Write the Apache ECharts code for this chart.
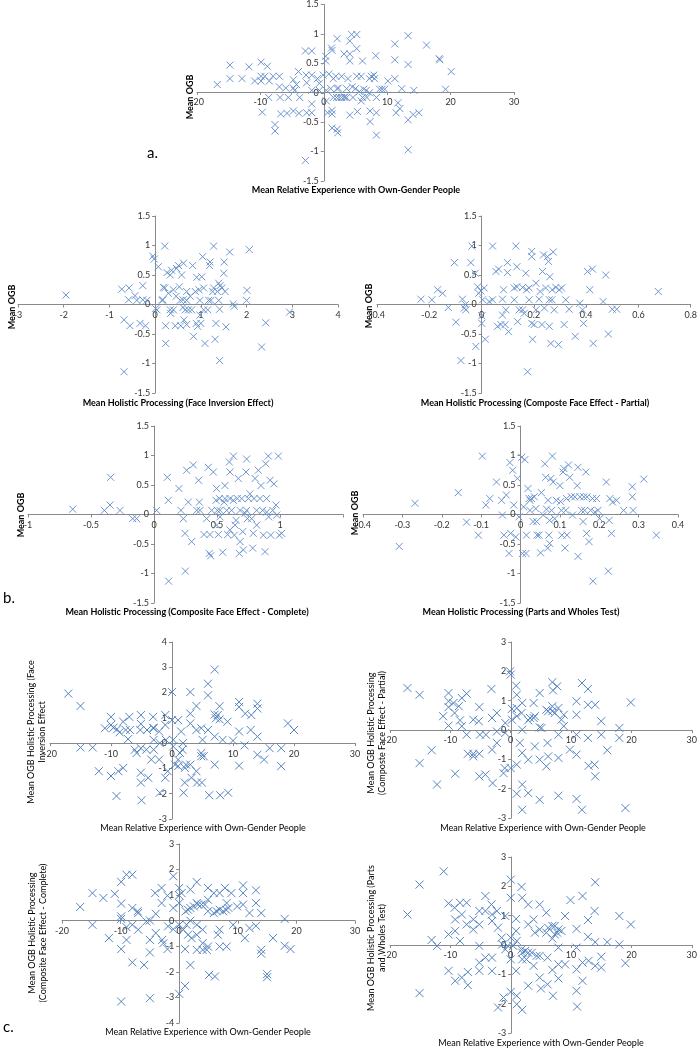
<!DOCTYPE html>
<html><head><meta charset="utf-8">
<script src="https://cdn.jsdelivr.net/npm/echarts@6/dist/echarts.min.js"></script>
<style>html,body{margin:0;padding:0;background:#fff}#c{width:700px;height:1048px}</style>
</head><body><div id="c"></div>
<script>
// ---- data (x, y) per panel ----
const panelA = [[-16.8,0.14],[-14.8,0.47],[-14.8,0.24],[-12.9,0.24],[-11.8,0.44],[-10.9,0.2],[-9.9,0.52],[-9.9,0.28],[-9.9,0.2],[-9.7,-0.33],[-9.3,0.28],[-8.9,0.45],[-8.7,-0.08],[-8.6,0.2],[-8.0,0.28],[-7.7,-0.54],[-7.7,-0.65],[-7.0,0.28],[-7.0,0.1],[-6.8,-0.36],[-6.0,0.08],[-5.8,-0.35],[-4.8,0.08],[-4.8,0.22],[-4.8,-0.31],[-4.6,0.04],[-4.0,0.36],[-3.9,-0.35],[-2.9,0.71],[-2.8,0.3],[-2.7,-0.34],[-2.9,-1.15],[-2.7,0.17],[-1.9,0.71],[-1.9,-0.19],[-1.9,-0.34],[-1.0,0.24],[-0.7,0.16],[-0.7,0.04],[0.3,0.54],[0.3,0.62],[0.4,-0.14],[0.6,-0.34],[0.8,0.32],[1.1,0.07],[1.2,0.76],[1.3,0.72],[1.3,-0.3],[1.3,-0.36],[1.3,-0.6],[1.5,-0.08],[1.9,0.28],[2.1,0.92],[2.1,0.07],[2.1,-0.62],[2.2,-0.68],[2.3,0.08],[2.4,-0.08],[2.8,0.28],[3.2,0.66],[3.2,-0.08],[3.3,-0.07],[3.8,0.24],[4.1,0.54],[4.1,0.66],[4.1,0.88],[4.1,-0.38],[4.4,0.99],[4.5,0.1],[5.2,0.99],[5.2,0.75],[5.2,0.28],[5.3,-0.32],[5.6,0.02],[6.1,0.54],[6.1,-0.08],[6.3,0.06],[7.2,0.24],[7.3,-0.49],[7.3,-0.31],[7.5,0.28],[7.9,0.3],[8.0,0.24],[8.2,0.63],[8.3,-0.34],[8.3,-0.72],[8.3,-0.08],[9.2,0.06],[10.1,0.2],[11.2,0.56],[11.2,0.83],[11.2,0.24],[11.4,-0.34],[11.7,-0.17],[12.0,-0.27],[12.3,0.07],[13.3,0.48],[13.3,0.97],[13.3,-0.46],[13.3,-0.97],[14.1,-0.37],[14.2,0.04],[15.0,-0.34],[16.2,0.81],[18.2,0.58],[18.3,0.56],[19.2,0.06],[20.1,0.36],[-5.6,-0.08],[-3.8,-0.08],[-1.9,0.04],[0.4,0.04],[3.6,-0.08],[4.6,-0.08],[5.9,-0.14],[6.8,-0.08],[2.0,-0.08],[2.8,-0.08],[8.8,0.06],[9.6,0.06],[6.7,0.04],[5.0,0.07],[3.6,0.07],[1.5,0.24],[-0.1,0.3],[-4.3,0.14],[-6.9,-0.08],[-1.9,0.3],[7.2,0.0],[5.9,0.28]];

const panelB1 = [[-1.95,0.16],[-0.73,0.26],[-0.68,-0.26],[-0.68,-1.14],[-0.57,0.28],[-0.58,0.08],[-0.55,-0.36],[-0.44,0.15],[-0.4,0.07],[-0.33,-0.32],[-0.27,0.32],[-0.27,0.08],[-0.21,-0.36],[-0.18,0.07],[-0.05,0.82],[-0.02,0.77],[0.01,-0.07],[0.04,-0.09],[0.07,0.64],[0.15,0.07],[0.18,0.29],[0.21,0.28],[0.21,0.99],[0.23,-0.36],[0.23,-0.66],[0.26,0.54],[0.33,0.5],[0.33,-0.09],[0.34,-0.15],[0.36,0.58],[0.4,0.25],[0.44,-0.36],[0.46,0.14],[0.47,0.61],[0.51,0.66],[0.53,0.3],[0.55,0.07],[0.56,-0.36],[0.58,0.5],[0.61,-0.05],[0.62,0.7],[0.63,-0.26],[0.66,-0.09],[0.69,0.22],[0.73,-0.09],[0.77,0.14],[0.8,-0.09],[0.82,0.66],[0.84,-0.54],[0.88,0.22],[0.9,-0.32],[0.91,0.46],[0.93,-0.37],[0.96,0.25],[0.98,0.07],[1.0,-0.32],[1.02,0.47],[1.04,0.81],[1.06,0.28],[1.09,-0.66],[1.15,-0.09],[1.17,0.07],[1.19,0.66],[1.2,0.72],[1.22,0.07],[1.26,0.22],[1.28,0.99],[1.31,-0.59],[1.33,-0.32],[1.36,0.22],[1.39,0.07],[1.41,-0.95],[1.41,-0.08],[1.42,0.32],[1.46,0.28],[1.5,0.53],[1.51,0.72],[1.53,0.22],[1.55,-0.38],[1.63,0.89],[1.71,0.01],[1.73,-0.03],[2.0,0.07],[2.01,0.24],[2.06,0.93],[2.33,-0.72],[2.42,-0.31],[2.94,-0.13],[0.69,0.07],[0.4,-0.09],[0.29,0.19],[1.28,0.28],[0.98,-0.18],[1.06,-0.09],[0.69,-0.34],[0.61,0.08],[0.17,0.08],[1.39,0.36]];

const panelB2 = [[-0.232,0.09],[-0.19,0.08],[-0.168,0.25],[-0.149,0.19],[-0.127,-0.05],[-0.104,0.71],[-0.098,-0.3],[-0.073,0.09],[-0.066,-0.06],[-0.062,0.0],[-0.079,-0.95],[-0.06,-0.09],[-0.041,0.71],[-0.037,0.99],[-0.022,-0.71],[-0.024,0.53],[-0.015,0.3],[-0.011,0.19],[-0.003,0.23],[0.001,-0.19],[0.001,-0.32],[0.004,0.08],[0.01,0.28],[0.014,-0.59],[0.029,0.05],[0.042,0.99],[0.055,0.56],[0.061,-0.37],[0.065,0.6],[0.074,-0.34],[0.08,0.09],[0.084,0.25],[0.09,-0.34],[0.093,-0.09],[0.099,0.71],[0.099,0.54],[0.103,-0.46],[0.131,0.99],[0.135,0.64],[0.135,0.3],[0.138,-0.29],[0.144,-0.09],[0.157,0.29],[0.163,-0.15],[0.169,0.53],[0.172,0.25],[0.176,-1.14],[0.182,0.08],[0.192,0.9],[0.192,0.81],[0.192,-0.32],[0.195,-0.59],[0.201,-0.34],[0.208,0.36],[0.22,0.09],[0.224,0.22],[0.231,-0.34],[0.233,0.56],[0.237,0.84],[0.24,-0.06],[0.252,0.81],[0.256,0.73],[0.259,-0.37],[0.261,0.47],[0.265,-0.66],[0.269,0.08],[0.274,0.89],[0.278,-0.09],[0.284,0.29],[0.294,-0.68],[0.297,0.25],[0.306,0.28],[0.316,-0.34],[0.322,0.08],[0.335,-0.08],[0.358,-0.54],[0.376,0.02],[0.386,-0.09],[0.39,-0.32],[0.405,0.56],[0.414,0.25],[0.424,0.6],[0.427,-0.66],[0.465,0.05],[0.475,0.5],[0.485,-0.5],[0.5,-0.08],[0.517,-0.08],[0.676,0.22],[0.042,0.08],[0.125,0.08],[0.157,-0.09],[0.245,0.28],[0.27,0.25],[0.208,-0.09],[0.08,-0.18],[0.182,0.28],[0.125,0.28],[0.259,0.08]];

const panelB3 = [[-0.645,0.09],[-0.394,0.07],[-0.349,0.16],[-0.344,0.63],[-0.27,0.07],[-0.169,-0.07],[-0.138,-0.07],[0.021,0.07],[0.106,0.63],[0.114,0.24],[0.116,-1.13],[0.198,0.44],[0.214,0.07],[0.233,-0.07],[0.246,-0.32],[0.249,-0.96],[0.259,0.75],[0.272,0.21],[0.299,-0.46],[0.312,0.84],[0.354,0.58],[0.36,0.21],[0.365,0.07],[0.397,-0.34],[0.431,0.8],[0.439,-0.66],[0.444,-0.34],[0.45,-0.7],[0.458,0.07],[0.471,0.72],[0.492,0.24],[0.497,0.44],[0.503,0.07],[0.511,-0.34],[0.519,0.27],[0.524,-0.04],[0.545,-0.64],[0.556,0.21],[0.563,0.49],[0.577,0.07],[0.585,-0.34],[0.598,0.89],[0.603,0.72],[0.603,-0.26],[0.616,0.07],[0.63,0.99],[0.63,0.24],[0.638,-0.35],[0.651,-0.1],[0.661,0.27],[0.669,0.61],[0.677,-0.66],[0.683,-0.46],[0.696,0.27],[0.704,-0.29],[0.709,-0.6],[0.722,0.02],[0.73,0.72],[0.735,0.94],[0.741,-0.07],[0.749,0.27],[0.762,0.35],[0.775,-0.07],[0.783,-0.57],[0.794,0.27],[0.802,0.61],[0.815,-0.18],[0.828,0.75],[0.841,0.27],[0.849,0.49],[0.862,0.07],[0.868,-0.35],[0.881,-0.63],[0.886,0.86],[0.894,0.27],[0.907,0.99],[0.91,-0.04],[0.921,0.58],[0.926,-0.35],[0.942,0.07],[0.952,0.52],[0.968,0.16],[0.987,0.99],[0.995,-0.35],[1.013,-0.32],[0.524,0.07],[0.603,0.27],[0.683,0.07],[0.735,0.07],[0.815,0.07],[0.497,-0.18],[0.643,-0.18],[0.788,-0.32],[0.339,0.07],[0.974,-0.01],[0.894,0.04],[0.563,0.27],[0.418,-0.07]];

const panelB4 = [[-0.308,-0.54],[-0.268,0.19],[-0.158,0.37],[-0.137,-0.13],[-0.107,-0.35],[-0.097,0.99],[-0.088,0.16],[-0.078,0.27],[-0.061,0.55],[-0.048,0.24],[-0.046,-0.01],[-0.042,-0.35],[-0.036,0.33],[-0.029,-0.66],[-0.027,0.88],[-0.025,-0.32],[-0.02,0.75],[-0.017,0.16],[-0.012,-0.38],[-0.008,0.61],[-0.004,-0.04],[0.003,0.97],[0.005,-0.66],[0.008,0.13],[0.011,0.93],[0.014,-0.66],[0.015,-0.35],[0.019,0.44],[0.022,0.27],[0.024,0.24],[0.028,0.27],[0.032,-0.12],[0.035,0.3],[0.039,0.1],[0.042,-0.35],[0.047,-0.35],[0.051,-0.65],[0.053,0.37],[0.058,-0.01],[0.062,0.86],[0.064,0.63],[0.066,0.09],[0.069,-0.57],[0.07,0.24],[0.072,-0.35],[0.074,-0.49],[0.077,0.61],[0.079,0.07],[0.081,0.99],[0.083,0.55],[0.087,-0.07],[0.1,0.49],[0.102,0.22],[0.104,0.07],[0.105,-0.35],[0.108,0.72],[0.11,0.78],[0.113,-0.57],[0.115,0.07],[0.117,0.27],[0.118,-0.35],[0.122,0.84],[0.125,0.63],[0.129,0.3],[0.132,-0.01],[0.138,0.3],[0.144,0.49],[0.146,0.8],[0.146,-0.71],[0.151,0.3],[0.155,0.07],[0.161,0.3],[0.166,0.72],[0.168,-0.32],[0.169,0.3],[0.174,-0.46],[0.178,0.07],[0.183,0.27],[0.184,-1.13],[0.189,0.04],[0.193,0.27],[0.197,0.07],[0.201,-0.07],[0.218,0.55],[0.223,-0.96],[0.225,-0.1],[0.227,0.27],[0.231,-0.32],[0.234,0.21],[0.244,0.24],[0.262,0.07],[0.284,0.47],[0.284,0.3],[0.286,0.07],[0.313,0.6],[0.345,-0.35],[0.024,0.07],[0.041,-0.12],[0.091,0.24],[0.074,-0.1],[0.159,-0.12],[0.163,0.07]];

const panelC1 = [[-17.0,1.96],[-15.0,1.47],[-15.0,-0.17],[-13.0,-0.17],[-12.0,-1.11],[-11.0,0.59],[-10.0,1.04],[-10.0,0.72],[-10.0,-1.3],[-9.6,0.61],[-9.1,-2.09],[-9.0,0.55],[-8.8,-1.11],[-8.6,0.43],[-8.0,0.85],[-8.0,-0.98],[-7.6,0.52],[-7.2,0.16],[-7.0,1.04],[-6.9,0.52],[-6.1,-0.26],[-5.8,-0.39],[-5.2,0.52],[-5.1,1.11],[-5.1,0.76],[-5.1,-0.2],[-5.1,-1.17],[-5.1,-1.56],[-5.0,-2.26],[-4.1,0.52],[-3.9,-1.37],[-3.4,-0.65],[-3.1,1.04],[-3.1,0.61],[-3.0,0.13],[-3.0,-0.26],[-2.1,0.46],[-2.1,-0.65],[-2.0,0.0],[-2.0,-1.96],[-1.1,1.11],[-1.1,-1.37],[-1.1,0.72],[-0.7,-1.11],[0.0,2.02],[0.0,0.91],[0.2,-0.13],[0.5,-0.85],[1.0,0.91],[1.0,-0.91],[1.3,-0.39],[1.5,0.46],[1.8,0.0],[1.9,-1.96],[2.1,-0.98],[2.1,-1.56],[2.3,-0.85],[3.0,2.02],[3.0,1.17],[3.0,0.78],[3.0,-0.85],[3.2,-1.37],[4.0,1.47],[4.0,0.52],[4.0,-1.11],[4.1,-1.56],[4.8,0.59],[4.8,-0.39],[4.9,-1.56],[5.0,0.13],[5.2,-0.52],[5.9,2.35],[5.9,1.89],[5.9,0.52],[6.1,-2.06],[7.0,2.91],[7.0,1.13],[7.0,0.26],[7.0,-0.85],[7.5,1.11],[7.8,1.46],[7.8,0.94],[7.9,-2.06],[8.3,0.13],[9.1,0.85],[9.2,-1.96],[10.0,0.1],[11.0,1.63],[11.0,1.43],[11.0,0.46],[11.0,-0.89],[11.9,-0.09],[12.0,1.17],[12.9,0.52],[13.0,1.11],[14.0,1.37],[14.0,1.56],[14.0,0.26],[14.0,-0.46],[15.1,-0.65],[16.0,-0.2],[17.9,-0.2],[17.9,-0.91],[19.0,0.78],[20.0,0.52],[0.2,0.13],[1.7,-0.26],[1.0,-0.65],[4.8,-0.52],[7.2,0.98],[-4.2,-0.26],[-3.0,0.59],[-1.0,0.13]];

const panelC2 = [[-17.1,1.43],[-15.1,1.2],[-15.1,-1.13],[-13.1,-0.69],[-12.2,-1.86],[-11.2,0.47],[-10.3,1.26],[-10.3,0.98],[-10.3,0.78],[-10.3,0.15],[-9.5,0.92],[-9.3,0.58],[-9.2,-1.49],[-8.6,0.81],[-8.4,0.33],[-8.1,1.09],[-8.1,0.13],[-7.3,1.24],[-7.3,-0.16],[-7.1,-0.81],[-6.2,-0.81],[-6.2,0.35],[-5.3,0.3],[-5.2,-0.81],[-5.2,0.78],[-5.1,-0.16],[-5.2,-1.58],[-4.2,-1.52],[-4.1,-0.16],[-3.2,1.4],[-3.1,0.41],[-3.1,-0.67],[-3.0,-1.81],[-2.3,0.58],[-2.3,-0.44],[-1.2,-1.47],[-1.0,-1.3],[-0.9,0.24],[-0.1,2.0],[0.0,1.89],[0.0,-1.3],[0.2,0.72],[0.2,0.35],[0.9,1.51],[1.0,1.2],[1.0,0.47],[1.0,-1.18],[1.0,-2.17],[1.9,0.92],[1.9,0.01],[1.9,-0.78],[1.9,-1.86],[1.9,-2.72],[2.9,0.33],[2.9,-1.01],[2.9,-2.15],[3.8,0.92],[3.8,0.41],[4.0,-0.56],[4.8,1.26],[4.8,0.09],[4.8,-1.01],[4.8,-2.38],[5.9,0.69],[5.9,-1.24],[6.1,-0.44],[6.9,1.63],[6.9,0.64],[6.9,0.81],[7.0,1.35],[7.7,1.49],[7.9,0.75],[7.9,-0.16],[7.9,-0.95],[7.9,-2.24],[8.8,0.52],[8.8,0.13],[9.8,-0.67],[10.9,0.98],[10.9,0.52],[10.9,-0.16],[10.9,-0.84],[10.9,-2.35],[11.8,1.6],[11.8,-2.72],[12.8,1.4],[12.8,0.86],[12.8,-0.27],[12.9,-1.22],[13.9,-1.18],[14.0,0.86],[14.0,-1.58],[15.0,0.3],[15.0,-0.16],[16.0,-0.69],[18.0,0.07],[18.0,-0.27],[19.0,-2.66],[19.9,0.94],[1.0,0.75],[1.8,0.58],[3.2,0.41],[4.0,0.47],[5.1,0.07],[6.2,0.64],[7.3,0.58],[8.4,0.35],[-0.9,-0.1],[1.5,-0.44],[6.2,-0.9],[-2.3,-0.05],[-6.2,-0.9]];

const panelC3 = [[-16.9,0.54],[-14.8,-0.16],[-14.8,1.08],[-12.95,0.89],[-12.0,-0.68],[-11.0,1.05],[-9.9,1.52],[-9.9,0.67],[-9.9,0.17],[-9.9,0.07],[-9.9,-1.11],[-9.9,-3.16],[-9.0,-0.75],[-9.0,-0.25],[-9.0,1.8],[-8.0,1.8],[-8.0,0.5],[-8.0,-0.16],[-8.0,-1.63],[-7.1,0.37],[-7.0,-0.35],[-7.0,0.3],[-6.0,-1.73],[-5.6,-0.03],[-5.0,-0.75],[-5.0,-1.24],[-5.0,-3.03],[-5.0,0.01],[-4.1,1.08],[-4.0,0.27],[-4.0,-0.48],[-3.0,1.28],[-3.0,0.69],[-2.9,-0.75],[-2.7,-0.88],[-2.0,0.98],[-2.0,-1.11],[-1.0,1.74],[-1.0,0.5],[-1.0,-0.33],[0.0,1.28],[0.0,0.99],[0.0,0.69],[0.0,-0.16],[0.0,-2.86],[0.4,1.08],[0.7,-0.35],[1.0,-1.11],[1.0,-2.55],[1.1,0.37],[1.5,-0.55],[1.9,1.22],[1.9,0.5],[1.9,0.0],[1.9,-1.73],[2.1,-0.68],[3.0,1.51],[3.0,0.69],[3.0,-1.14],[3.0,-0.16],[3.8,0.63],[4.0,-0.35],[4.0,-0.88],[4.0,-1.14],[4.9,1.28],[4.9,0.82],[4.9,0.37],[4.9,-1.01],[5.1,-2.12],[5.9,1.08],[5.9,0.3],[6.1,-2.18],[6.9,1.08],[6.9,0.43],[6.9,-0.35],[6.9,-1.01],[7.8,1.28],[8.0,0.43],[8.1,0.69],[8.1,-1.01],[8.9,1.08],[9.2,-0.16],[9.9,0.56],[10.9,1.38],[10.9,1.08],[10.9,0.63],[11.2,-0.68],[12.0,0.3],[12.0,-0.29],[13.1,1.19],[13.1,0.69],[13.1,-0.2],[14.0,0.3],[14.0,-1.14],[14.0,-1.29],[15.0,-2.09],[15.0,-2.21],[16.0,-0.68],[18.0,0.07],[18.0,-0.98],[19.0,-1.11],[1.5,0.43],[2.5,0.56],[3.2,0.63],[4.4,0.63],[6.4,0.37],[7.5,0.37],[8.4,0.5],[3.0,-0.55],[1.25,-0.16],[4.7,-1.14],[6.6,-0.55],[-1.9,-0.22]];

const panelC4 = [[-17.1,1.04],[-15.1,2.06],[-15.1,-1.64],[-13.1,0.17],[-12.2,-0.03],[-11.1,2.51],[-10.3,1.42],[-10.3,0.36],[-10.3,-0.88],[-9.3,1.27],[-9.2,0.87],[-9.2,0.48],[-9.2,-1.22],[-8.4,1.44],[-8.4,0.14],[-8.1,1.04],[-8.1,-1.11],[-7.3,1.44],[-7.3,0.7],[-7.1,-0.92],[-7.1,-1.37],[-6.2,0.87],[-6.2,0.53],[-5.2,1.16],[-5.2,0.7],[-5.2,-0.03],[-5.2,-0.6],[-5.2,-0.88],[-4.2,1.67],[-4.2,1.16],[-4.2,-0.43],[-3.2,1.38],[-3.1,1.04],[-3.1,0.82],[-3.1,-0.43],[-3.1,-0.88],[-2.3,1.16],[-2.1,0.59],[-2.1,-2.13],[-1.4,0.02],[-1.2,-1.79],[-0.9,0.99],[-0.5,-0.03],[0.0,2.23],[0.0,1.61],[0.0,0.25],[0.0,-0.49],[0.0,-1.6],[0.9,0.89],[0.9,0.48],[0.9,-0.88],[1.0,-2.02],[1.0,-1.73],[1.8,1.98],[1.9,1.61],[1.9,-0.26],[1.9,-2.21],[1.9,-0.49],[2.9,1.38],[2.9,0.7],[2.9,-0.26],[2.9,-1.39],[3.8,0.87],[3.8,-0.71],[4.0,0.42],[4.8,1.38],[4.8,0.53],[4.8,-0.37],[4.8,-1.11],[5.0,-1.48],[5.9,1.1],[5.9,0.42],[6.1,-0.43],[6.1,-1.34],[6.9,0.65],[6.9,0.22],[6.9,-0.85],[7.0,-1.73],[7.7,0.42],[7.9,0.53],[7.9,-0.09],[7.9,-0.66],[7.9,-1.14],[9.0,0.99],[9.0,-0.66],[9.9,1.53],[10.9,0.55],[10.9,-0.09],[10.9,-0.83],[10.9,-1.56],[11.0,-2.1],[11.9,1.67],[11.9,-0.6],[11.9,-1.22],[12.8,0.85],[12.8,0.28],[12.9,-0.54],[13.9,1.16],[14.0,2.14],[14.0,0.1],[14.0,-0.71],[15.0,-0.4],[15.0,-0.77],[16.0,0.1],[18.0,0.99],[18.0,0.02],[19.0,-0.62],[19.9,0.7],[1.0,0.14],[1.8,-0.15],[2.4,-0.2],[3.5,-0.26],[0.4,-0.03],[6.2,0.59],[7.3,0.36],[8.4,0.48],[4.3,-0.37],[2.6,-0.49],[-0.9,-0.15],[-1.5,0.25],[7.3,0.65]];

// ---- axis ranges / tick steps ----
const xRangeA = [-20, 30, 10];
const xRangeB1 = [-3, 4, 1];
const xRangeB2 = [-0.4, 0.8, 0.2];
const xRangeB3 = [-1, 1.5, 0.5];
const xRangeB4 = [-0.4, 0.4, 0.1];
const xRangeC = [-20, 30, 10];
const yRangeOGB = [-1.5, 1.5, 0.5];
const yRangeC1 = [-3, 4, 1];
const yRangeC2 = [-3, 3, 1];
const yRangeC3 = [-4, 3, 1];
const yRangeC4 = [-3, 3, 1];

// ---- text ----
const xTitleExp = 'Mean Relative Experience with Own-Gender People';
const yTitleOGB = 'Mean OGB';
const xTitlesB = ['Mean Holistic Processing (Face Inversion Effect)', 'Mean Holistic Processing (Composte Face Effect - Partial)', 'Mean Holistic Processing (Composite Face Effect - Complete)', 'Mean Holistic Processing (Parts and Wholes Test)'];
const yTitlesC = ['Mean OGB Holistic Processing (Face\nInversion Effect', 'Mean OGB Holistic Processing\n(Composte Face Effect - Partial)', 'Mean OGB Holistic Processing\n(Composite Face Effect - Complete)', 'Mean OGB Holistic Processing (Parts\nand Wholes Test)'];
const panelLetters = ['a.', 'b.', 'c.'];

// ---- layout ----
const FONT = 'Lato, "Liberation Sans", sans-serif';
const panels = [
  {data: panelA, xr: xRangeA, yr: yRangeOGB, g: [197, 3, 317, 178], xt: [xTitleExp, 356, 190, true], yt: [yTitleOGB, 190, 97, true], mk: 0},
  {data: panelB1, xr: xRangeB1, yr: yRangeOGB, g: [18, 216, 320, 177], xt: [xTitlesB[0], 178, 403, true], yt: [yTitleOGB, 12, 307, true], mk: 0},
  {data: panelB2, xr: xRangeB2, yr: yRangeOGB, g: [377, 216, 314, 177], xt: [xTitlesB[1], 535, 403, true], yt: [yTitleOGB, 369, 306, true], mk: 0},
  {data: panelB3, xr: xRangeB3, yr: yRangeOGB, g: [28, 426, 315, 177], xt: [xTitlesB[2], 187, 612, true], yt: [yTitleOGB, 21, 515, true], hideMax: true, mk: 0},
  {data: panelB4, xr: xRangeB4, yr: yRangeOGB, g: [363, 426, 315, 177], xt: [xTitlesB[3], 521, 612, true], yt: [yTitleOGB, 355, 513, true], mk: 0},
  {data: panelC1, xr: xRangeC, yr: yRangeC1, g: [50, 642, 305, 177], xt: [xTitleExp, 203, 828, false], yt: [yTitlesC[0], 37, 732, false], mk: 1},
  {data: panelC2, xr: xRangeC, yr: yRangeC2, g: [390, 642, 303, 176], xt: [xTitleExp, 543, 828, false], yt: [yTitlesC[1], 377, 733, false], mk: 1},
  {data: panelC3, xr: xRangeC, yr: yRangeC3, g: [62, 844, 293, 179], xt: [xTitleExp, 208, 1032, false], yt: [yTitlesC[2], 38, 933, false], mk: 1},
  {data: panelC4, xr: xRangeC, yr: yRangeC4, g: [390, 857, 303, 176], xt: [xTitleExp, 541, 1043, false], yt: [yTitlesC[3], 377, 938, false], mk: 1}
];

const AXIS_COLOR = '#8a8a8a';
const MARK_STYLES = [{color: '#6690cb', size: 7}, {color: '#4d7dbd', size: 8}];
const grid = [], xAxis = [], yAxis = [], series = [], graphic = [];
panels.forEach((p, i) => {
  const [gl, gt, gw, gh] = p.g;
  grid.push({left: gl, top: gt, width: gw, height: gh, containLabel: false});
  const common = {
    type: 'value', gridIndex: i, splitLine: {show: false},
    axisLine: {show: true, onZero: false, lineStyle: {color: AXIS_COLOR, width: 1}},
    axisTick: {show: true, length: 3, lineStyle: {color: AXIS_COLOR}},
    axisLabel: {fontSize: 9, color: '#333', fontFamily: FONT, showMinLabel: true, showMaxLabel: true, hideOverlap: false}
  };
  // place each axis on the other axis' zero (Excel style crossing)
  const xa = JSON.parse(JSON.stringify(common));
  xa.min = p.xr[0]; xa.max = p.xr[1]; xa.interval = p.xr[2];
  xa.position = 'bottom';
  xa.offset = -gh * (0 - p.yr[0]) / (p.yr[1] - p.yr[0]);
  xa.axisLabel.margin = 6;
  if (p.hideMax) { const mx = p.xr[1]; xa.axisLabel.formatter = v => (Math.abs(v - mx) < 1e-9 ? '' : String(v)); }
  const ya = JSON.parse(JSON.stringify(common));
  ya.min = p.yr[0]; ya.max = p.yr[1]; ya.interval = p.yr[2];
  ya.position = 'left';
  ya.offset = -gw * (0 - p.xr[0]) / (p.xr[1] - p.xr[0]);
  ya.axisLabel.margin = 5;
  xAxis.push(xa); yAxis.push(ya);
  const ms = MARK_STYLES[p.mk];
  series.push({
    type: 'scatter', xAxisIndex: i, yAxisIndex: i, data: p.data,
    symbol: 'path://M0,0L10,10M0,10L10,0', symbolSize: ms.size,
    itemStyle: {color: 'transparent', borderColor: ms.color, borderWidth: 1, opacity: 0.95},
    silent: true, animation: false
  });
  graphic.push({type: 'text', x: p.xt[1], y: p.xt[2], silent: true,
    style: {text: p.xt[0], fill: '#000', font: (p.xt[3] ? 'bold ' : '') + '9px ' + FONT, textAlign: 'center', textVerticalAlign: 'middle'}});
  graphic.push({type: 'text', x: p.yt[1], y: p.yt[2], rotation: Math.PI / 2, silent: true,
    style: {text: p.yt[0], fill: '#000', font: (p.yt[3] ? 'bold ' : '') + '9px ' + FONT, textAlign: 'center', textVerticalAlign: 'middle', lineHeight: 11}});
});
const letterPos = [[147, 153], [3, 598], [3, 1027]];
panelLetters.forEach((t, i) => {
  graphic.push({type: 'text', x: letterPos[i][0], y: letterPos[i][1], silent: true,
    style: {text: t, fill: '#000', font: '15px ' + FONT, textAlign: 'left', textVerticalAlign: 'middle'}});
});

const chart = echarts.init(document.getElementById('c'), null, {renderer: 'canvas'});
chart.setOption({animation: false, backgroundColor: '#fff', grid, xAxis, yAxis, series, graphic});
</script>
</body></html>
